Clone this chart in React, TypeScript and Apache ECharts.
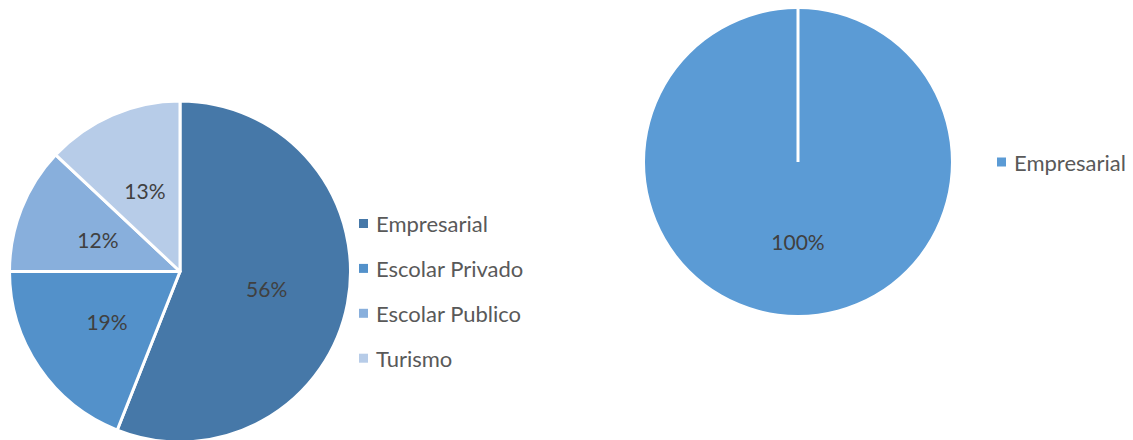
import React, { useEffect, useRef } from "react";
import * as echarts from "echarts";

const leftCategories = ["Empresarial", "Escolar Privado", "Escolar Publico", "Turismo"];
const leftValues = [56, 19, 12, 13];
const leftColors = ["#4678a8", "#5391ca", "#88afdc", "#b7cce8"];

const rightCategories = ["Empresarial"];
const rightValues = [100];
const rightColors = ["#5b9bd5"];

const FONT = "Lato, 'Open Sans', sans-serif";

const LEFT_CENTER = [180, 271.5];
const LEFT_R = 170.5;
const RIGHT_CENTER = [798, 162];
const RIGHT_R = 153;

export default function App() {
  const ref = useRef<HTMLDivElement>(null);

  useEffect(() => {
    document.body.style.margin = "0";
    const chart = echarts.init(ref.current!, undefined, { renderer: "svg" });
    const labelStyle = {
      show: true,
      position: "inside",
      formatter: "{d}%",
      color: "#404040",
      fontFamily: FONT,
      fontSize: 21,
    };
    const legendText = {
      color: "#595959",
      fontFamily: FONT,
      fontSize: 22,
      lineHeight: 22,
      padding: [0, 0, 0, 3],
    };
    chart.setOption({
      animation: false,
      backgroundColor: "#ffffff",
      legend: [
        {
          orient: "vertical",
          left: 359,
          top: 212.5,
          padding: 0,
          icon: "rect",
          itemWidth: 9,
          itemHeight: 9,
          itemGap: 22.9,
          selectedMode: false,
          data: leftCategories.map((n, i) => ({
            name: n,
            itemStyle: { color: leftColors[i], borderWidth: 0 },
          })),
          textStyle: legendText,
        },
        {
          orient: "vertical",
          left: 997,
          top: 151,
          padding: 0,
          icon: "rect",
          itemWidth: 9,
          itemHeight: 9,
          selectedMode: false,
          data: rightCategories.map((n, i) => ({
            name: n,
            itemStyle: { color: rightColors[i], borderWidth: 0 },
          })),
          textStyle: legendText,
        },
      ],
      graphic: [
        {
          type: "line",
          z: 100,
          shape: {
            x1: RIGHT_CENTER[0],
            y1: RIGHT_CENTER[1],
            x2: RIGHT_CENTER[0],
            y2: RIGHT_CENTER[1] - RIGHT_R - 1,
          },
          style: { stroke: "#ffffff", lineWidth: 3 },
        },
      ],
      series: [
        {
          type: "pie",
          center: LEFT_CENTER,
          radius: LEFT_R,
          startAngle: 90,
          clockwise: true,
          silent: true,
          label: labelStyle,
          labelLine: { show: false },
          itemStyle: { borderColor: "#ffffff", borderWidth: 3 },
          data: leftCategories.map((n, i) => ({
            name: n,
            value: leftValues[i],
            itemStyle: { color: leftColors[i] },
          })),
        },
        {
          type: "pie",
          center: RIGHT_CENTER,
          radius: RIGHT_R,
          startAngle: 90,
          clockwise: true,
          silent: true,
          label: labelStyle,
          labelLine: { show: false },
          itemStyle: { borderWidth: 0 },
          data: rightCategories.map((n, i) => ({
            name: n,
            value: rightValues[i],
            itemStyle: { color: rightColors[i] },
          })),
        },
      ],
    });
    return () => chart.dispose();
  }, []);

  return (
    <div
      ref={ref}
      style={{ position: "absolute", left: 0, top: 0, width: 1133, height: 440 }}
    />
  );
}
